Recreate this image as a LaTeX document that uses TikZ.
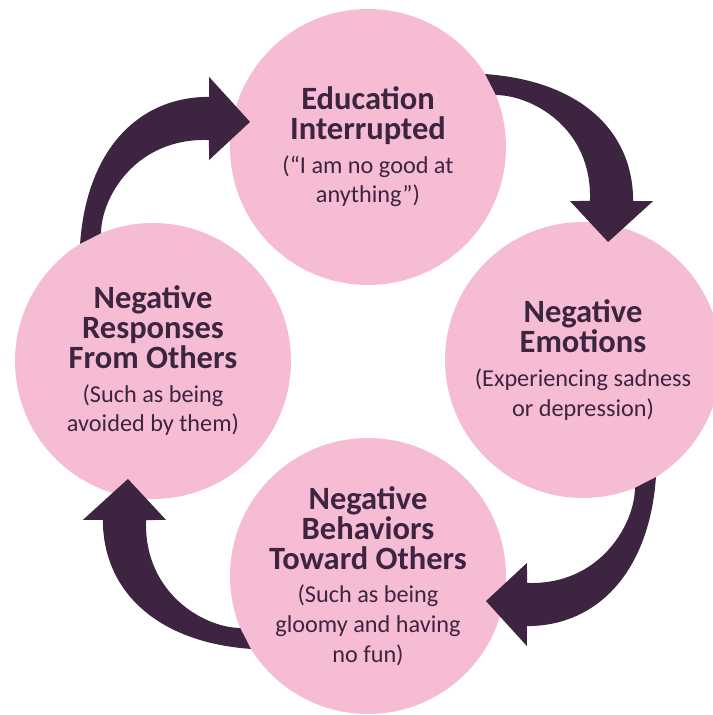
\documentclass[tikz,border=0pt]{standalone}
\usepackage{fontspec}
\setmainfont{Carlito}
\usepackage{xcolor}
\usetikzlibrary{calc}
\definecolor{petal}{RGB}{246,188,211}
\definecolor{plum}{RGB}{61,36,64}
\newcommand{\phasehead}[1]{{\bfseries #1}}
\newcommand{\phasenote}[1]{{\fontsize{13.8}{15}\selectfont #1}}

\begin{document}
\begin{tikzpicture}[x=0.02cm, y=0.02cm,
  phase/.style={circle, fill=petal, minimum size=5.52cm, inner sep=0pt, align=center, text=plum, font=\fontsize{18.5}{17}\selectfont}]
  \useasboundingbox (0,0) rectangle (712,715);
  \node[phase] (edu) at (368,568) {\phasehead{Education}\\\phasehead{Interrupted}\\[2pt]\phasenote{(“I am no good at}\\\phasenote{anything”)}};
  \node[phase] (emo) at (583,355) {\phasehead{Negative}\\\phasehead{Emotions}\\[2pt]\phasenote{(Experiencing sadness}\\\phasenote{or depression)}};
  \node[phase] (beh) at (368,139) {\phasehead{Negative}\\\phasehead{Behaviors}\\\phasehead{Toward Others}\\[2pt]\phasenote{(Such as being}\\\phasenote{gloomy and having}\\\phasenote{no fun)}};
  \node[phase] (resp) at (153,354) {\phasehead{Negative}\\\phasehead{Responses}\\\phasehead{From Others}\\[2pt]\phasenote{(Such as being}\\\phasenote{avoided by them)}};
  \foreach \src/\dst/\rot in {resp/edu/0, edu/emo/-90, emo/beh/-180, beh/resp/-270}
    \fill[plum] ($(\src)+(\rot+121.9:138)$) .. controls +(\rot+86:94) and +(\rot+180:71) .. ($(\dst)+(\rot+162.5:166.7)$)
      -- ($(\dst)+(\rot+156.2:173.7)$) -- ($(\dst)+(\rot+168:120.6)$) -- ($(\dst)+(\rot+184.7:159.5)$)
      -- ($(\dst)+(\rot+177.5:159.2)$) .. controls +(\rot+178:74) and +(\rot+90:35) .. ($(\src)+(\rot+112.1:138)$) -- cycle;
\end{tikzpicture}
\end{document}
